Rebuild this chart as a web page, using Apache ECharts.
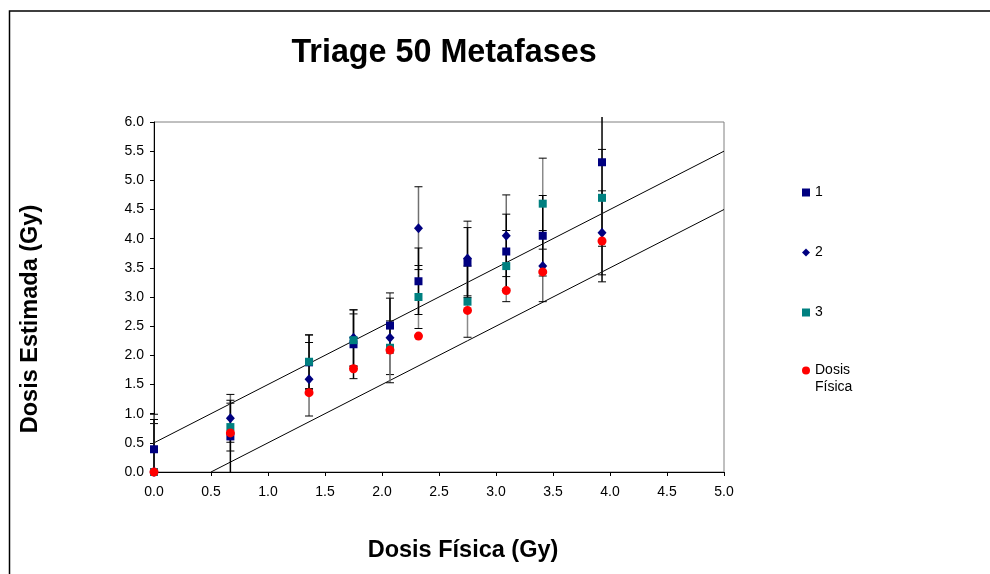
<!doctype html>
<html lang="es">
<head>
    <meta charset="UTF-8">
    <title>Triage 50 Metafases</title>
    <style>
        * {
            margin: 0;
            padding: 0;
        }

        body {
            background: #fff;
        }

        #main {
            width: 990px;
            height: 574px;
        }
    </style>
</head>
<body>
<div id="main"></div>
<script src="https://cdn.jsdelivr.net/npm/echarts@6/dist/echarts.min.js"></script>
<script>
    // dosis fisica de cada grupo (eje x)
    var xVals = [0, 0.67, 1.36, 1.75, 2.07, 2.32, 2.75, 3.09, 3.41, 3.93];

    var s1 = [0.39, 0.61, 1.88, 2.19, 2.51, 3.27, 3.59, 3.78, 4.05, 5.31];
    var s1Err = [0.51, 0.62, 0.47, 0.59, 0.47, 0.57, 0.60, 0.64, 0.69, 2.05];
    var s2 = [0, 0.92, 1.59, 2.30, 2.30, 4.18, 3.66, 4.05, 3.53, 4.10];
    var s2Err = [0.99, 0.41, 0.63, 0.48, 0.77, 0.71, 0.64, 0.70, 0.61, 0.72];
    var s3 = [0, 0.77, 1.89, 2.26, 2.13, 3.00, 2.92, 3.53, 4.60, 4.70];
    var s3Err = [0.83, 0.41, 0.46, 0.45, 0.46, 0.54, 0.61, 0.61, 0.78, 0.83];
    var dosis = [0, 0.67, 1.36, 1.77, 2.09, 2.33, 2.77, 3.11, 3.43, 3.96];

    // rectas limite (+0.5 / -0.5)
    var upperLine = [[0, 0.5], [5, 5.5]];
    var lowerLine = [[0.5, 0], [5, 4.5]];

    function pairs(ys) {
        return xVals.map(function (x, i) {
            return [x, ys[i]];
        });
    }

    function errData(ys, errs) {
        return xVals.map(function (x, i) {
            return [x, ys[i], errs[i]];
        });
    }

    function errSeries(ys, errs, color, z) {
        return {
            type: 'custom',
            z: z,
            silent: true,
            data: errData(ys, errs),
            renderItem: function (params, api) {
                var x = api.value(0), y = api.value(1), e = api.value(2);
                var top = api.coord([x, y + e]);
                var bot = api.coord([x, y - e]);
                var cs = params.coordSys;
                var yMin = cs.y, yMax = cs.y + cs.height;
                var children = [];
                var t = Math.max(top[1], yMin - 5);
                var b = Math.min(bot[1], yMax);
                children.push({
                    type: 'line',
                    shape: {x1: top[0], y1: t, x2: bot[0], y2: b},
                    style: {stroke: color, lineWidth: 1.5}
                });
                if (top[1] >= yMin) {
                    children.push({
                        type: 'line',
                        shape: {x1: top[0] - 4, y1: top[1], x2: top[0] + 4, y2: top[1]},
                        style: {stroke: '#000', lineWidth: 1}
                    });
                }
                if (bot[1] <= yMax) {
                    children.push({
                        type: 'line',
                        shape: {x1: bot[0] - 4, y1: bot[1], x2: bot[0] + 4, y2: bot[1]},
                        style: {stroke: '#000', lineWidth: 1}
                    });
                }
                return {type: 'group', children: children};
            }
        };
    }

    var chart = echarts.init(document.getElementById('main'));
    var font = 'Liberation Sans, Arial, sans-serif';
    var legendText = {fontSize: 14, color: '#000', fontFamily: font, lineHeight: 17};

    var option = {
        animation: false,
        backgroundColor: '#fff',
        textStyle: {fontFamily: font},
        title: {
            text: 'Triage 50 Metafases',
            left: 439,
            top: 32,
            textAlign: 'center',
            textStyle: {fontSize: 32.3, fontWeight: 'bold', color: '#000', fontFamily: font}
        },
        graphic: [{
            type: 'rect',
            shape: {x: 9.5, y: 11, width: 1000, height: 600},
            style: {fill: 'none', stroke: '#000', lineWidth: 1.5},
            silent: true,
            z: -1
        }],
        grid: {
            left: 154,
            right: 266,
            top: 122,
            bottom: 102,
            show: true,
            borderColor: '#808080',
            borderWidth: 1
        },
        legend: [{
            orient: 'vertical',
            left: 797,
            top: 179,
            itemGap: 43,
            itemWidth: 8,
            itemHeight: 8,
            textStyle: legendText,
            data: ['1', '2', '3']
        }, {
            orient: 'vertical',
            left: 797,
            top: 340,
            itemWidth: 8,
            itemHeight: 8,
            textStyle: legendText,
            formatter: function () {
                return '\nDosis\nFísica';
            },
            data: ['Dosis Física']
        }],
        xAxis: {
            type: 'value',
            min: 0,
            max: 5,
            interval: 0.5,
            name: 'Dosis Física (Gy)',
            nameLocation: 'middle',
            nameGap: 67,
            nameTextStyle: {
                fontSize: 23.5, fontWeight: 'bold', color: '#000', fontFamily: font,
                padding: [0, 0, 0, 48]
            },
            axisLine: {lineStyle: {color: '#000', width: 1}},
            axisTick: {length: 4, lineStyle: {color: '#000'}},
            axisLabel: {
                fontSize: 14, color: '#000', margin: 13,
                formatter: function (v) { return v.toFixed(1); }
            },
            splitLine: {show: false}
        },
        yAxis: {
            type: 'value',
            min: 0,
            max: 6,
            interval: 0.5,
            name: 'Dosis Estimada (Gy)',
            nameLocation: 'middle',
            nameGap: 111,
            nameTextStyle: {
                fontSize: 23.5, fontWeight: 'bold', color: '#000', fontFamily: font,
                padding: [0, 44, 0, 0]
            },
            axisLine: {show: true, lineStyle: {color: '#000', width: 1}},
            axisTick: {show: true, length: 4, lineStyle: {color: '#000'}},
            axisLabel: {
                fontSize: 14, color: '#000', margin: 10,
                formatter: function (v) { return v.toFixed(1); }
            },
            splitLine: {show: false}
        },
        series: [
            {
                type: 'line',
                data: upperLine,
                symbol: 'none',
                silent: true,
                z: 1,
                lineStyle: {color: '#000', width: 1}
            },
            {
                type: 'line',
                data: lowerLine,
                symbol: 'none',
                silent: true,
                z: 1,
                lineStyle: {color: '#000', width: 1}
            },
            errSeries(s3, s3Err, '#8a8a8a', 2),
            errSeries(s2, s2Err, '#707070', 3),
            errSeries(s1, s1Err, '#000', 4),
            {
                name: '1',
                type: 'scatter',
                data: pairs(s1),
                symbol: 'rect',
                symbolSize: 8,
                z: 5,
                itemStyle: {color: '#000080', opacity: 1}
            },
            {
                name: '2',
                type: 'scatter',
                data: pairs(s2),
                symbol: 'diamond',
                symbolSize: [9, 10],
                z: 6,
                itemStyle: {color: '#000080', opacity: 1}
            },
            {
                name: '3',
                type: 'scatter',
                data: pairs(s3),
                symbol: 'rect',
                symbolSize: 8,
                z: 7,
                itemStyle: {color: '#008080', opacity: 1}
            },
            {
                name: 'Dosis Física',
                type: 'scatter',
                data: pairs(dosis),
                symbol: 'circle',
                symbolSize: 9,
                z: 8,
                itemStyle: {color: '#ff0000', opacity: 1}
            }
        ]
    };

    chart.setOption(option);
</script>
</body>
</html>
